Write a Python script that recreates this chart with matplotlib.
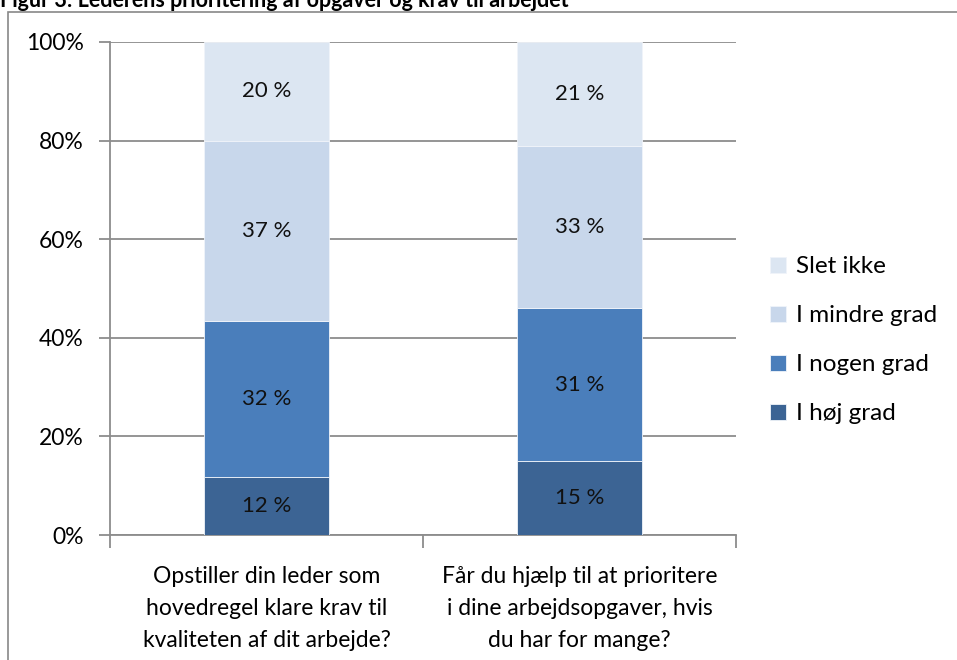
import matplotlib.pyplot as plt
from matplotlib.patches import Rectangle
import numpy as np

# Data
kategorier = ['Opstiller din leder som\nhovedregel klare krav til\nkvaliteten af dit arbejde?',
              'Får du hjælp til at prioritere\ni dine arbejdsopgaver, hvis\ndu har for mange?']
serier = ['I høj grad', 'I nogen grad', 'I mindre grad', 'Slet ikke']
hoj_grad = [11.8, 15.0]
nogen_grad = [31.6, 31.0]
mindre_grad = [36.6, 33.0]
slet_ikke = [20.0, 21.0]
etiketter = [['12 %', '15 %'], ['32 %', '31 %'], ['37 %', '33 %'], ['20 %', '21 %']]
farver = ['#3C6494', '#4A7EBB', '#C8D7EB', '#DCE6F2']

plt.rcParams['font.family'] = ['Lato', 'DejaVu Sans']

fig = plt.figure(figsize=(9.57, 6.6), dpi=100)
ax = fig.add_axes([110/957, 125/660, 626/957, 493/660])

# Ramme rundt om diagrammet
fig.patches.append(Rectangle((8/957, -0.1), 1.1, (648/660) + 0.1, transform=fig.transFigure,
                             fill=False, edgecolor='#888888', linewidth=1.2))

fig.text(0.0, 653/660, 'Figur 3: Lederens prioritering af opgaver og krav til arbejdet',
         fontsize=15.5, fontweight='bold', ha='left', va='baseline')

x = np.arange(len(kategorier))
bund = np.zeros(len(kategorier))
for navn, vals, farve, lab in zip(serier, [hoj_grad, nogen_grad, mindre_grad, slet_ikke], farver, etiketter):
    bars = ax.bar(x, vals, 0.4, bottom=bund, color=farve, label=navn,
                  edgecolor='#F0F4FA', linewidth=0.6, zorder=3)
    for i, b in enumerate(bars):
        ax.text(b.get_x() + b.get_width()/2, bund[i] + vals[i]/2, lab[i],
                ha='center', va='center', fontsize=16, color='#111111', zorder=4)
    bund += np.array(vals)

ax.set_xlim(-0.5, 1.5)
ax.set_ylim(0, 100)
ax.set_yticks(np.arange(0, 101, 20))
ax.set_yticklabels([f'{v}%' for v in range(0, 101, 20)], fontsize=16.5)
ax.yaxis.grid(True, color='#8C8C8C', linewidth=1.3, zorder=0)
ax.set_axisbelow(True)

ax.set_xticks([-0.5, 0.5, 1.5])
ax.set_xticklabels([])
ax.set_xticks(x, minor=True)
ax.set_xticklabels(kategorier, minor=True, fontsize=16.5, linespacing=1.65)
ax.tick_params(axis='x', which='minor', length=0, pad=22)
ax.tick_params(axis='x', which='major', length=9, width=1.3, color='#8C8C8C')
ax.tick_params(axis='y', length=8, width=1.3, color='#8C8C8C', pad=11)

for s in ['top', 'right']:
    ax.spines[s].set_visible(False)
for s in ['left', 'bottom']:
    ax.spines[s].set_color('#8C8C8C')
    ax.spines[s].set_linewidth(1.3)

h, l = ax.get_legend_handles_labels()
ax.legend(h[::-1], l[::-1], loc='center left', bbox_to_anchor=(1.02, 0.395), frameon=False,
          fontsize=17.5, handlelength=0.65, handleheight=0.65, handletextpad=0.4,
          labelspacing=1.15)

fig.savefig('out.png', dpi=100)
